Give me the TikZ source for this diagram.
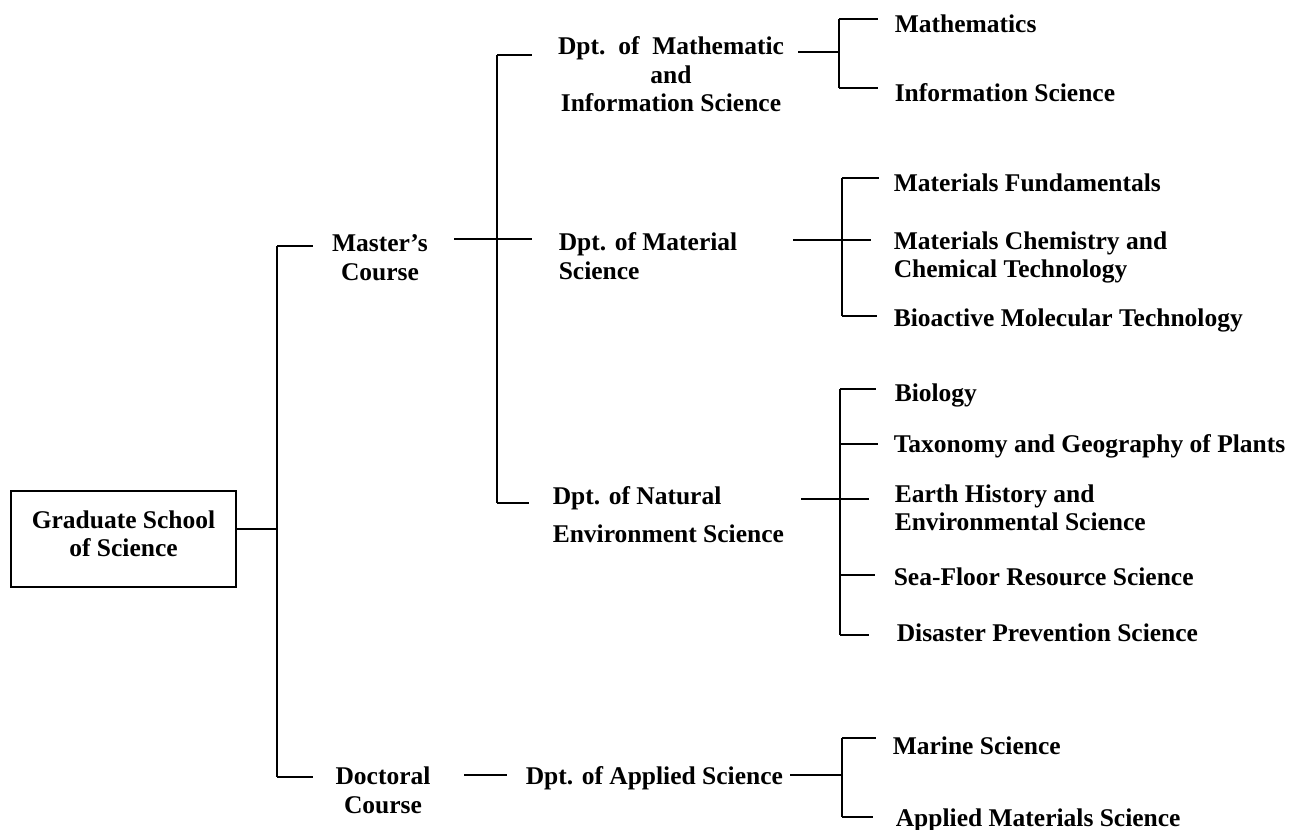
\documentclass[tikz,border=0pt]{standalone}
\usepackage{fontspec}
\setmainfont{Liberation Serif}
\begin{document}
\begin{tikzpicture}[x=1pt,y=-1pt,line width=1.6pt,
    every node/.style={inner sep=0pt,font=\bfseries\fontsize{25.5}{28.5}\selectfont},
    leaf/.style={anchor=north west,align=left},
    mid/.style={anchor=north,align=center}]

\useasboundingbox (0,0) rectangle (1291,830);

   \node[draw,minimum width=225pt,minimum height=96pt,align=center,text depth=11pt] at (123.5,539) (gs) {Graduate School\\of Science};

   \node[mid] at (380,234) (mc) {Master's\\Course};
   \node[mid] at (383,766) (dc) {Doctoral\\Course};

   \node[mid] at (671,36) (dmi) {Dpt.~~of~~Mathematic\\and\\Information Science};
   \node[leaf] at (558,232) (dms) {Dpt. of Material\\Science};
   \node[leaf] at (552,486) (dne) {Dpt. of Natural\\[9.5pt]Environment Science};
   \node[leaf] at (525,766) (das) {Dpt. of Applied Science};

   \node[leaf] at (894,14) (ma) {Mathematics};
   \node[leaf] at (894,83) (is) {Information Science};
   \node[leaf] at (893,173) (mf) {Materials Fundamentals};
   \node[leaf] at (893,231) (ct) {Materials Chemistry and\\Chemical Technology};
   \node[leaf] at (893,308) (bm) {Bioactive Molecular Technology};
   \node[leaf] at (894,383) (bi) {Biology};
   \node[leaf] at (893,434) (tg) {Taxonomy and Geography of Plants};
   \node[leaf] at (894,484) (eh) {Earth History and\\Environmental Science};
   \node[leaf] at (893,567) (sf) {Sea-Floor Resource Science};
   \node[leaf] at (896,623) (dp) {Disaster Prevention Science};
   \node[leaf] at (892,736) (ms) {Marine Science};
   \node[leaf] at (895,808) (am) {Applied Materials Science};

   \coordinate (r) at (277,529);
   \coordinate (rt) at (277,246);
   \coordinate (rb) at (277,777);
   \coordinate (rt1) at (313,246);
   \coordinate (rb1) at (313,777);

    \draw (gs.east |- r) -- (r);
    \draw (rt) -- (rb);
    \draw (rt) -- (rt1);
    \draw (rb) -- (rb1);

   \coordinate (m0) at (454,239);
   \coordinate (m1) at (532,239);
   \coordinate (mt) at (497,55);
   \coordinate (mt1) at (532,55);
   \coordinate (mb) at (497,503);
   \coordinate (mb1) at (529,503);

    \draw (m0) -- (m1);
    \draw (mt) -- (mb);
    \draw (mt) -- (mt1);
    \draw (mb) -- (mb1);

   \coordinate (d0) at (464,775);
   \coordinate (d1) at (507,775);
    \draw (d0) -- (d1);

   \coordinate (a0) at (798,52);
   \coordinate (a) at (839,52);
   \coordinate (at) at (839,19);
   \coordinate (ab) at (839,88);
   \coordinate (at1) at (878,19);
   \coordinate (ab1) at (878,88);

    \draw (a0) -- (a);
    \draw (at) -- (ab);
    \draw (at) -- (at1);
    \draw (ab) -- (ab1);

   \coordinate (b0) at (793,240);
   \coordinate (b1) at (871,240);
   \coordinate (bt) at (842,178);
   \coordinate (bb) at (842,316);
   \coordinate (bt1) at (879,178);
   \coordinate (bb1) at (877,316);

    \draw (b0) -- (b1);
    \draw (bt) -- (bb);
    \draw (bt) -- (bt1);
    \draw (bb) -- (bb1);

   \coordinate (c0) at (801,499);
   \coordinate (c1) at (869,499);
   \coordinate (ct) at (840,389);
   \coordinate (c2) at (840,444);
   \coordinate (c3) at (840,575);
   \coordinate (cb) at (840,635);
   \coordinate (ct1) at (876,389);
   \coordinate (c21) at (878,444);
   \coordinate (c31) at (875,575);
   \coordinate (cb1) at (869,635);

    \draw (c0) -- (c1);
    \draw (ct) -- (cb);
    \draw (ct) -- (ct1);
    \draw (c2) -- (c21);
    \draw (c3) -- (c31);
    \draw (cb) -- (cb1);

   \coordinate (e0) at (790,775);
   \coordinate (e) at (842,775);
   \coordinate (et) at (842,738);
   \coordinate (eb) at (842,817);
   \coordinate (et1) at (876,738);
   \coordinate (eb1) at (873,817);

    \draw (e0) -- (e);
    \draw (et) -- (eb);
    \draw (et) -- (et1);
    \draw (eb) -- (eb1);

\end{tikzpicture}
\end{document}
